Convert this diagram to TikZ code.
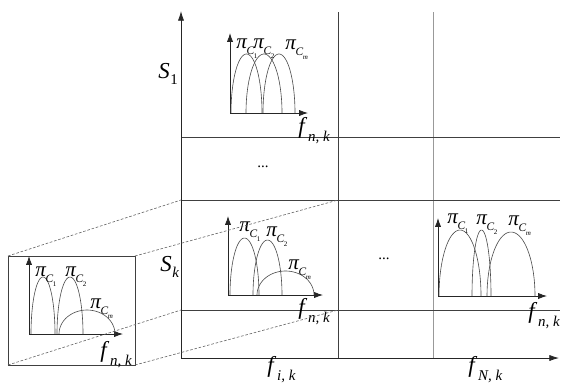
\documentclass[tikz,border=0pt]{standalone}
\usepackage{fontspec}
\setmainfont{Liberation Serif}
\usetikzlibrary{arrows.meta}
\newcommand{\piC}[1]{\textit{π}\kern-0.5pt\raisebox{-0.32em}{\fontsize{6.5}{7}\selectfont\textit{C}\kern-0.2pt\raisebox{-0.3em}{\fontsize{4}{5}\selectfont #1}}}
\newcommand{\fsub}[1]{\textit{f}\kern0.5pt\raisebox{-0.35em}{\fontsize{8.5}{9}\selectfont\textit{#1}}}
\newcommand{\ssub}[1]{\textit{S}\kern0.3pt\raisebox{-0.3em}{\fontsize{8.5}{9}\selectfont #1}}
\begin{document}
\begin{tikzpicture}[x=0.02cm,y=-0.02cm,
  grid/.style={line width=0.45pt,draw=black!75},
  lightgrid/.style={line width=0.45pt,draw=black!40},
  mainaxis/.style={line width=0.45pt,draw=black!85,-{Latex[length=5.5pt,width=3.5pt]}},
  plotaxis/.style={line width=0.45pt,draw=black!85,-{Latex[length=5pt,width=3.5pt]}},
  arch/.style={line width=0.35pt,draw=black!70},
  zoomline/.style={line width=0.35pt,draw=black!60,dash pattern=on 1.5pt off 1pt},
  lab/.style={inner sep=0pt,anchor=base west,font=\fontsize{13}{15}\selectfont},
  pil/.style={inner sep=0pt,anchor=base west,font=\fontsize{12}{14}\selectfont},
  dots/.style={inner sep=0pt,font=\fontsize{8.5}{9}\selectfont}]
\useasboundingbox (0,0) rectangle (563,383);
% ---- grid coordinates
\coordinate (O) at (181,358);
\coordinate (Ytop) at (181,11);
\coordinate (Xend) at (559,358);
\coordinate (V1t) at (338,12); \coordinate (V1b) at (338,358);
\coordinate (V2t) at (433,12); \coordinate (V2b) at (433,358);
\coordinate (H1l) at (181,137); \coordinate (H1r) at (560,137);
\coordinate (H2l) at (181,200); \coordinate (H2r) at (560,200);
\coordinate (H3l) at (181,310); \coordinate (H3r) at (560,310);
\draw[grid] (V1t) -- (V1b);
\draw[lightgrid] (V2t) -- (V2b);
\draw[grid] (H1l) -- (H1r);
\draw[grid] (H2l) -- (H2r);
\draw[grid] (H3l) -- (H3r);
\draw[mainaxis] (O) -- (Ytop);
\draw[mainaxis] (O) -- (Xend);
% ---- axis labels
\node[lab] (s1) at (158,78) {\ssub{1}};
\node[lab] (sk) at (160,271) {\ssub{\textit{k}}};
\node[lab] (fik) at (267,372) {\fsub{i, k}};
\node[lab] (fNk) at (468,372) {\fsub{N, k}};
\node[dots] (d1) at (263,167) {...};
\node[dots] (d2) at (384,259) {...};
% ---- arch macro: cx, a (half width), base, h
\newcommand{\archpl}[4]{\draw[arch] plot[domain=180:0,samples=40,smooth] ({#1+#2*cos(\x)},{#3-#4*sin(\x)});}
% ---- plot S1
\coordinate (A0) at (230,113); \coordinate (A1) at (230,33); \coordinate (A2) at (308,113);
\draw[plotaxis] (A0) -- (A1);
\draw[plotaxis] (A0) -- (A2);
\archpl{246.5}{15.5}{113}{59}
\archpl{264}{18}{113}{59}
\archpl{279}{16}{113}{59}
\node[pil] (a1) at (236,48) {\piC{1}};
\node[pil] (a2) at (253,48) {\piC{2}};
\node[pil] (a3) at (285,49) {\piC{\textit{m}}};
\node[lab] (af) at (298,133) {\fsub{n, k}};
% ---- plot Sk, fik
\coordinate (B0) at (228,295); \coordinate (B1) at (228,216); \coordinate (B2) at (323,295);
\draw[plotaxis] (B0) -- (B1);
\draw[plotaxis] (B0) -- (B2);
\archpl{244.5}{14.5}{295}{57}
\archpl{267.5}{14.5}{295}{55}
\archpl{285.5}{28.5}{295}{24}
\node[pil] (b1) at (239,231) {\piC{1}};
\node[pil] (b2) at (266,236) {\piC{2}};
\node[pil] (b3) at (288,269) {\piC{\textit{m}}};
\node[lab] (bf) at (298,314) {\fsub{n, k}};
% ---- plot Sk, fNk
\coordinate (C0) at (438,296); \coordinate (C1) at (438,218); \coordinate (C2) at (547,296);
\draw[plotaxis] (C0) -- (C1);
\draw[plotaxis] (C0) -- (C2);
\archpl{460}{21}{296}{66}
\archpl{481.5}{9.5}{296}{66}
\archpl{511}{24}{296}{64}
\node[pil] (c1) at (447,223) {\piC{1}};
\node[pil] (c2) at (476,224) {\piC{2}};
\node[pil] (c3) at (508,225) {\piC{\textit{m}}};
\node[lab] (cf) at (528,318) {\fsub{n, k}};
% ---- inset
\coordinate (I1) at (8,256); \coordinate (I2) at (135,256);
\coordinate (I3) at (135,365); \coordinate (I4) at (8,365);
\draw[grid] (I1) rectangle (I3);
\coordinate (D0) at (29,334); \coordinate (D1) at (29,256); \coordinate (D2) at (123,334);
\draw[plotaxis] (D0) -- (D1);
\draw[plotaxis] (D0) -- (D2);
\archpl{43}{12}{334}{57}
\archpl{70}{13}{334}{57}
\archpl{87}{28}{334}{24}
\node[pil] (e1) at (35,276) {\piC{1}};
\node[pil] (e2) at (65,276) {\piC{2}};
\node[pil] (e3) at (90,308) {\piC{\textit{m}}};
\node[lab] (ef) at (100,357) {\fsub{n, k}};
% ---- zoom lines
\coordinate (Z1) at (181,200); \coordinate (Z2) at (338,200);
\coordinate (Z3) at (338,310); \coordinate (Z4) at (181,310);
\draw[zoomline] (I1) -- (Z1);
\draw[zoomline] (I2) -- (Z2);
\draw[zoomline] (I3) -- (Z3);
\draw[zoomline] (I4) -- (Z4);
\end{tikzpicture}
\end{document}
